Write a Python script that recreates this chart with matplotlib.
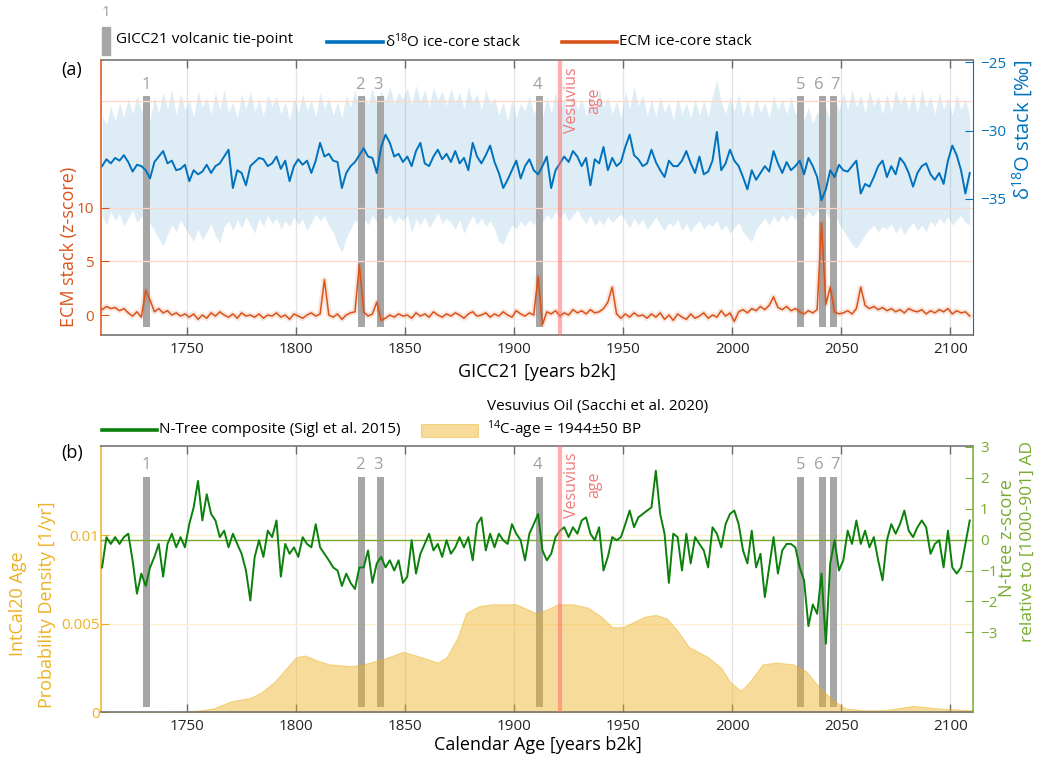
import numpy as np
import matplotlib
matplotlib.use('Agg')
import matplotlib.pyplot as plt
import matplotlib.transforms as mtransforms
from matplotlib.lines import Line2D
from matplotlib.patches import Rectangle

plt.rcParams['font.family'] = ['Open Sans', 'DejaVu Sans']
plt.rcParams['mathtext.fontset'] = 'custom'
plt.rcParams['mathtext.rm'] = 'Open Sans'
plt.rcParams['mathtext.it'] = 'Open Sans:italic'
plt.rcParams['mathtext.bf'] = 'Open Sans:bold'

# ---- data (2-yr steps) ----
years = np.arange(1711, 2111, 2)

d18o = [-32.6, -32.1, -32.4, -32.0, -32.2, -31.8, -32.3, -33.0, -32.5, -32.6,
        -32.9, -33.5, -32.3, -31.9, -31.5, -32.4, -32.2, -32.9, -32.8, -32.5,
        -33.7, -32.9, -33.2, -33.0, -32.5, -33.1, -32.6, -32.4, -31.9, -31.4,
        -34.2, -32.9, -33.1, -34.0, -32.6, -32.3, -32.0, -32.1, -32.6, -32.4,
        -31.9, -32.8, -32.2, -33.7, -32.6, -32.1, -32.5, -32.2, -33.1, -32.2,
        -30.9, -31.9, -31.7, -32.2, -32.3, -34.2, -33.1, -32.6, -32.3, -31.8,
        -31.3, -31.9, -32.0, -33.1, -31.2, -30.3, -30.9, -31.9, -31.7, -32.3,
        -31.9, -32.6, -31.5, -30.9, -32.4, -32.6, -31.9, -31.4, -32.1, -31.7,
        -32.3, -31.5, -32.4, -32.0, -32.9, -30.9, -31.9, -32.4, -31.8, -31.1,
        -32.3, -33.1, -34.2, -33.6, -32.9, -32.2, -33.5, -32.6, -32.1, -32.9,
        -33.2, -32.6, -31.9, -34.2, -32.9, -32.4, -31.9, -32.3, -31.5, -31.9,
        -32.6, -32.0, -34.0, -32.1, -32.4, -31.2, -32.9, -32.0, -32.6, -32.3,
        -31.2, -30.3, -31.8, -32.1, -32.6, -32.4, -31.4, -32.3, -32.9, -33.4,
        -32.2, -32.6, -32.6, -32.2, -31.5, -32.4, -33.1, -31.9, -33.2, -33.0,
        -32.2, -30.1, -32.9, -32.4, -31.4, -32.2, -32.6, -33.4, -34.3, -32.9,
        -33.6, -33.1, -32.6, -33.0, -31.5, -32.4, -33.1, -32.3, -32.9, -32.6,
        -32.2, -33.2, -32.0, -32.6, -33.4, -35.1, -34.3, -32.9, -33.4, -32.5,
        -32.9, -33.0, -32.6, -32.2, -34.6, -33.9, -34.1, -33.4, -32.6, -32.2,
        -33.4, -32.6, -33.2, -32.0, -32.4, -33.1, -34.1, -33.1, -32.6, -32.4,
        -33.2, -33.6, -33.1, -33.9, -32.2, -31.1, -31.8, -32.9, -34.6, -33.1]

d18o_hi = [-28.9, -29.6, -28.2, -29.3, -28.0, -29.0, -27.6, -28.8, -27.4, -28.6,
           -28.1, -29.2, -27.5, -28.7, -27.2, -28.4, -27.0, -28.9, -27.3, -28.5,
           -27.8, -29.0, -27.1, -28.3, -27.6, -28.8, -27.2, -28.5, -27.0, -28.7,
           -27.9, -29.1, -27.3, -28.4, -27.1, -28.6, -27.7, -28.9, -27.4, -28.2,
           -27.5, -28.8, -27.9, -29.2, -27.6, -28.7, -27.3, -28.5, -27.8, -29.0,
           -27.2, -28.4, -27.6, -28.9, -27.9, -29.1, -27.4, -28.3, -27.0, -28.5,
           -27.3, -28.1, -26.9, -28.2, -27.1, -27.8, -26.8, -28.0, -27.2, -27.7,
           -26.9, -28.1, -26.7, -27.9, -27.0, -28.3, -26.8, -27.8, -27.1, -28.2,
           -26.9, -28.0, -27.2, -28.4, -26.8, -27.9, -27.3, -28.5, -27.0, -28.1,
           -27.6, -28.9, -27.9, -29.3, -27.7, -29.0, -28.0, -28.6, -27.4, -28.8,
           -27.8, -29.1, -27.5, -28.7, -27.2, -28.4, -27.6, -28.9, -27.3, -28.5,
           -27.7, -29.0, -27.4, -28.6, -26.9, -28.3, -27.5, -28.8, -27.8, -29.1,
           -27.1, -28.4, -26.8, -28.2, -27.4, -28.9, -27.7, -29.0, -27.5, -28.7,
           -27.9, -29.2, -27.6, -28.8, -28.0, -29.1, -27.7, -28.9, -27.8, -29.0,
           -27.4, -26.3, -27.9, -28.8, -27.5, -28.6, -27.3, -28.9, -27.8, -29.0,
           -27.6, -28.7, -27.9, -29.1, -27.4, -28.5, -27.7, -28.8, -27.5, -28.9,
           -27.8, -29.2, -28.3, -29.5, -28.6, -29.8, -28.4, -29.3, -27.6, -28.6,
           -27.2, -28.5, -27.0, -28.3, -27.4, -28.7, -27.1, -28.2, -27.5, -28.8,
           -27.3, -28.6, -27.0, -28.1, -27.4, -28.5, -27.2, -28.7, -27.0, -28.3,
           -27.5, -28.8, -27.2, -28.4, -27.6, -28.9, -27.3, -28.5, -27.7, -29.0]

d18o_lo = [-36.2, -36.9, -35.9, -36.6, -36.1, -37.0, -36.4, -35.8, -36.7, -36.3,
           -36.0, -36.8, -37.3, -37.9, -38.4, -37.6, -36.9, -37.4, -36.5, -37.1,
           -37.6, -38.1, -37.2, -38.0, -37.4, -36.8, -37.7, -38.2, -37.0, -36.6,
           -37.3, -36.5, -37.1, -36.3, -36.9, -37.5, -36.4, -37.0, -36.2, -36.8,
           -36.4, -37.2, -36.6, -37.0, -36.3, -36.9, -36.5, -37.3, -36.7, -36.1,
           -36.6, -36.2, -37.0, -37.4, -38.3, -38.9, -37.8, -37.2, -36.5, -37.0,
           -36.4, -36.9, -36.2, -36.7, -36.0, -36.5, -36.1, -36.8, -36.3, -36.6,
           -36.2, -37.4, -36.5, -36.9, -36.3, -37.1, -36.6, -36.0, -36.8, -36.4,
           -36.7, -37.2, -36.5, -37.5, -36.8, -36.2, -36.9, -36.4, -37.0, -36.6,
           -37.2, -38.1, -38.3, -37.5, -36.9, -37.2, -36.6, -37.0, -36.5, -36.9,
           -36.3, -36.7, -36.1, -36.5, -35.9, -36.4, -36.0, -36.6, -36.2, -35.8,
           -36.4, -36.8, -36.2, -37.0, -36.5, -36.9, -36.3, -36.7, -36.4, -36.1,
           -36.6, -37.1, -36.4, -36.9, -36.5, -37.2, -36.8, -36.3, -36.9, -37.3,
           -36.7, -37.0, -36.5, -37.3, -36.8, -37.4, -36.9, -36.6, -37.2, -36.8,
           -37.0, -36.6, -37.3, -36.9, -37.5, -37.1, -36.7, -37.4, -37.8, -38.1,
           -37.2, -36.8, -36.4, -36.9, -36.3, -36.7, -36.2, -36.6, -36.1, -36.5,
           -36.0, -36.4, -35.9, -36.3, -35.8, -36.2, -36.0, -36.5, -36.1, -36.8,
           -37.3, -37.8, -38.3, -38.6, -38.1, -37.6, -37.2, -36.9, -37.4, -37.0,
           -37.2, -36.8, -37.5, -37.0, -37.6, -37.1, -36.7, -37.3, -36.9, -37.4,
           -36.6, -37.0, -36.4, -36.8, -36.3, -36.9, -36.5, -36.2, -36.7, -36.9]

ecm = [0.5, 0.8, 0.6, 0.7, 0.4, 0.6, 0.2, -0.1, 0.3, -0.2,
       2.3, 1.4, 0.3, 0.6, 0.2, 0.4, 0.0, 0.2, -0.1, 0.1,
       -0.2, 0.1, -0.4, 0.0, -0.3, 0.2, -0.1, 0.3, 0.0, -0.2,
       0.1, -0.3, 0.2, -0.1, 0.0, -0.2, 0.1, -0.3, 0.0, -0.1,
       0.2, -0.2, 0.0, -0.4, 0.1, -0.1, -0.3, 0.0, 0.2, -0.1,
       0.1, 3.3, 0.0, -0.2, 0.1, -0.4, 0.0, 0.2, 0.3, 4.7,
       0.3, -0.1, 0.1, 1.2, -0.5, -0.3, 0.0, -0.2, 0.1, -0.1,
       0.0, -0.3, 0.2, -0.1, 0.1, -0.2, 0.3, 0.0, -0.2, 0.1,
       -0.1, 0.2, 0.0, -0.3, 0.1, 0.3, -0.1, 0.0, 0.2, -0.2,
       0.1, -0.1, 0.3, 0.0, -0.2, 0.4, 0.1, -0.1, 0.2, 0.0,
       3.6, -0.9, 0.3, 0.1, 0.4, -0.1, 0.2, 0.0, 0.5, 0.2,
       0.4, 0.1, 0.5, 0.2, 0.3, 0.6, 1.2, 2.6, 0.1, -0.3,
       0.1, -0.2, 0.2, -0.1, 0.0, -0.3, 0.1, -0.2, 0.2, -0.4,
       0.0, -0.5, 0.1, -0.2, -0.4, 0.1, -0.3, -0.1, 0.2, -0.3,
       0.0, -0.2, 0.4, -0.1, 0.2, -0.6, 0.3, 0.5, 0.2, 0.6,
       0.4, 0.8, 0.5, 0.9, 1.7, 0.7, 0.5, 0.8, 0.4, 0.6,
       0.3, 0.1, 0.4, 0.2, 0.5, 8.6, 1.0, 2.6, 0.3, 0.1,
       0.2, 0.4, 0.1, 0.6, 2.6, 0.9, 0.6, 0.8, 0.5, 0.7,
       0.4, 0.6, 0.3, 0.5, 0.2, 0.6, 0.4, 0.3, 0.5, 0.1,
       0.4, 0.2, 0.5, 0.3, 0.6, 0.1, 0.4, 0.2, 0.3, -0.1]

ntree = [-0.9, 0.08, -0.14, 0.08, -0.14, 0.08, 0.19, -0.67, -1.75, -1.1,
         -1.5, -0.9, -0.56, -0.14, -1.2, -0.14, 0.19, -0.25, 0.08, -0.25,
         0.5, 1.04, 1.9, 0.62, 1.47, 0.83, 0.62, 0.08, 0.29, -0.25,
         0.19, -0.14, -0.46, -1.0, -1.97, -0.56, -0.02, -0.56, 0.29, 0.08,
         0.62, -1.2, -0.14, -0.46, -0.25, -0.56, 0.08, -0.14, -0.25, 0.5,
         -0.25, -0.46, -0.67, -0.9, -1.0, -1.5, -1.1, -1.4, -1.6, -0.9,
         -0.9, -0.35, -1.4, -0.77, -0.56, -0.9, -0.67, -1.0, -0.67, -1.4,
         -1.2, -0.02, -1.1, -0.46, -0.14, 0.19, -0.35, -0.14, -0.56, -0.02,
         -0.46, -0.25, 0.08, -0.25, 0.08, -0.67, 0.5, 0.72, -0.35, 0.19,
         -0.25, 0.19, -0.02, -0.14, 0.5, 0.19, -0.02, -0.67, 0.19, 0.5,
         0.83, -0.35, -0.67, -0.46, 0.08, 0.29, 0.4, 0.08, 0.4, 0.19,
         0.62, 0.72, 0.19, -0.02, 0.4, -1.0, -0.56, 0.08, -0.02, 0.08,
         0.5, 0.94, 0.4, 0.72, 0.83, 0.94, 1.04, 2.23, 0.83, 0.19,
         -1.4, 0.19, 0.08, -1.0, 0.19, -0.77, 0.08, -0.14, -0.35, -0.9,
         0.4, 0.19, -0.25, 0.5, 0.83, 0.94, 0.5, -0.35, -0.77, 0.29,
         -0.9, -0.46, -1.86, -0.9, 0.08, -1.1, -0.35, -0.14, -0.14, -0.25,
         -0.9, -1.32, -2.8, -2.1, -2.4, -1.1, -3.37, -0.77, -0.02, -1.0,
         -0.67, 0.29, -0.14, 0.62, -0.14, 0.29, -0.25, 0.08, -0.67, -1.32,
         -0.02, 0.5, 0.19, 0.5, 0.94, 0.29, 0.08, 0.4, 0.62, 0.4,
         -0.46, -0.14, -0.02, -0.9, 0.29, -0.9, -1.1, -0.9, -0.14, 0.62]

dens_years = [1711, 1740, 1750, 1756, 1762, 1770, 1779, 1784, 1790, 1795,
              1800, 1804, 1810, 1815, 1825, 1831, 1840, 1849, 1855, 1865,
              1869, 1874, 1878, 1884, 1890, 1901, 1910, 1915, 1920, 1927,
              1934, 1940, 1945, 1950, 1955, 1960, 1965, 1970, 1975, 1980,
              1989, 1995, 1999, 2004, 2008, 2014, 2020, 2028, 2034, 2040,
              2046, 2052, 2060, 2070, 2083, 2095, 2110]
dens = [0, 0, 0.00003, 0.0001, 0.0002, 0.0006, 0.0008, 0.0011, 0.0017, 0.0024,
        0.0031, 0.0032, 0.0029, 0.0027, 0.0026, 0.0027, 0.0030, 0.0034, 0.0032, 0.0028,
        0.0031, 0.0042, 0.0056, 0.0060, 0.0061, 0.0061, 0.0056, 0.0058, 0.0061, 0.0061,
        0.0059, 0.0054, 0.0048, 0.0048, 0.0051, 0.0054, 0.0055, 0.0053, 0.0046, 0.0037,
        0.0031, 0.0025, 0.0017, 0.0012, 0.0017, 0.0027, 0.0028, 0.0027, 0.0023, 0.0014,
        0.0007, 0.0002, 0.0001, 0.0001, 0.00035, 0.0002, 0.0001]

tie_years = [1731.2, 1829.9, 1838.7, 1911.5, 2031.3, 2041.5, 2046.4]
tie_label_years = [1731.2, 1829.4, 1837.5, 1910.8, 2031.6, 2039.6, 2047.4]
tie_labels = ['1', '2', '3', '4', '5', '6', '7']
vesuvius_year = 1921

BLUE = '#0072BD'
ORANGE = '#D95319'
YELLOW = '#EDB120'
LGREEN = '#77AC30'
GREEN = '#0b800b'
GREY = '#a6a6a6'
PINK = '#ff6b6b'
SPINE = '#6a6a6a'

fig = plt.figure(figsize=(10.39, 7.59), dpi=100)


def style_x(ax):
    ax.set_xlim(1710.5, 2110.5)
    ax.set_xticks([1750, 1800, 1850, 1900, 1950, 2000, 2050, 2100])
    ax.tick_params(axis='x', direction='in', length=6, width=1, top=True,
                   color=SPINE, labelsize=11, labelcolor='#262626', pad=5)
    for x in range(1750, 2101, 50):
        ax.axvline(x, color='#e4e4e4', lw=0.9, zorder=0)
    for s in ['top', 'bottom']:
        ax.spines[s].set_color(SPINE)
        ax.spines[s].set_linewidth(1.1)


def tie_bars(ax, ymin, ymax, ylab, z):
    tr = mtransforms.blended_transform_factory(ax.transData, ax.transAxes)
    for yr in tie_years:
        ax.axvspan(yr - 1.65, yr + 1.65, ymin=ymin, ymax=ymax,
                   color=GREY, lw=0, zorder=z)
    for yr, lab in zip(tie_label_years, tie_labels):
        ax.text(yr, ylab, lab, transform=tr, ha='center', va='center',
                color='#a0a0a0', fontsize=12)


def vesuvius(ax, ytop):
    ax.axvline(vesuvius_year, color=PINK, alpha=0.55, lw=3, zorder=4)
    tr = mtransforms.blended_transform_factory(ax.transData, ax.transAxes)
    ax.text(1923.0, ytop, 'Vesuvius\nage', transform=tr, rotation=90,
            ha='left', va='top', multialignment='center', linespacing=1.5,
            color='#f07a7a', fontsize=11.5)


# ---------------- panel (a) ----------------
ax_d = fig.add_axes([0.0972, 0.5586, 0.8393, 0.3624])
ax_e = ax_d.twinx()
ax_d.yaxis.tick_right()
ax_d.yaxis.set_label_position('right')
ax_e.yaxis.tick_left()
ax_e.yaxis.set_label_position('left')

style_x(ax_d)
ax_d.fill_between(years, d18o_lo, d18o_hi, color=BLUE, alpha=0.13, lw=0, zorder=1)
tie_bars(ax_d, 0.029, 0.869, 0.909, 2)
ax_d.plot(years, d18o, color=BLUE, lw=1.4, zorder=3)
ax_d.set_ylim(-44.93, -24.85)
ax_d.set_yticks([-35, -30, -25])
ax_d.tick_params(axis='y', direction='in', length=6, color=BLUE,
                 labelcolor=BLUE, labelsize=11, pad=5)
ax_d.spines['right'].set_color(BLUE)
ax_d.spines['left'].set_visible(False)

for g in [5, 10, 20]:
    ax_e.axhline(g, color='#fbd8ca', lw=0.9, zorder=0)
ax_e.plot(years, ecm, color=ORANGE, lw=4, alpha=0.15, zorder=1)
ax_e.plot(years, ecm, color=ORANGE, lw=1.1, zorder=2)
vesuvius(ax_e, 0.972)
ax_e.set_ylim(-1.87, 23.83)
ax_e.set_yticks([0, 5, 10])
ax_e.tick_params(axis='y', direction='in', length=6, color=ORANGE,
                 labelcolor=ORANGE, labelsize=11, pad=5)
ax_e.spines['left'].set_color(ORANGE)
ax_e.spines['left'].set_linewidth(1.1)
for s in ['right', 'top', 'bottom']:
    ax_e.spines[s].set_visible(False)

# ---------------- panel (b) ----------------
ax_b = fig.add_axes([0.0972, 0.0619, 0.8393, 0.3505])
ax_n = ax_b.twinx()
style_x(ax_b)
for g in [0.005, 0.01]:
    ax_b.axhline(g, color='#fcf0cf', lw=0.9, zorder=0)
tie_bars(ax_b, 0.019, 0.883, 0.929, 1)
ax_b.fill_between(dens_years, 0, dens, facecolor=YELLOW, alpha=0.45,
                  edgecolor=YELLOW, lw=0.8, zorder=2)
ax_b.set_ylim(0, 0.01506)
ax_b.set_yticks([0, 0.005, 0.01])
ax_b.set_yticklabels(['0', '0.005', '0.01'])
ax_b.tick_params(axis='y', direction='in', length=6, color=YELLOW,
                 labelcolor=YELLOW, labelsize=11, pad=1)
ax_b.spines['left'].set_color(YELLOW)
ax_b.spines['left'].set_linewidth(1.1)
ax_b.spines['right'].set_visible(False)

ax_n.axhline(0, color=LGREEN, lw=1.0, zorder=1)
ax_n.plot(years, ntree, color=GREEN, lw=1.4, zorder=2)
vesuvius(ax_n, 0.977)
ax_n.set_ylim(-5.58, 3.03)
ax_n.set_yticks([-3, -2, -1, 0, 1, 2, 3])
ax_n.tick_params(axis='y', direction='in', length=6, color=LGREEN,
                 labelcolor=LGREEN, labelsize=11, pad=5)
ax_n.spines['right'].set_color(LGREEN)
ax_n.spines['right'].set_linewidth(1.1)
for s in ['left', 'top', 'bottom']:
    ax_n.spines[s].set_visible(False)

# ---------------- labels ----------------
fig.text(0.0693, 0.9078, '(a)', fontsize=13, ha='center', va='center')
fig.text(0.0693, 0.4032, '(b)', fontsize=13, ha='center', va='center')
fig.text(0.5173, 0.5099, 'GICC21 [years b2k]', fontsize=13, ha='center', va='center')
fig.text(0.5173, 0.0184, 'Calendar Age [years b2k]', fontsize=13, ha='center', va='center')
fig.text(0.0664, 0.675, 'ECM stack (z-score)', color=ORANGE, fontsize=13,
         rotation=90, ha='center', va='center')
fig.text(0.9845, 0.8294, r'δ$^{18}$O stack [‰]', color=BLUE, fontsize=14.5,
         rotation=90, ha='center', va='center')
fig.text(0.0173, 0.2042, 'IntCal20 Age', color=YELLOW, fontsize=13,
         rotation=90, ha='center', va='center')
fig.text(0.0452, 0.2029, 'Probability Density [1/yr]', color=YELLOW, fontsize=13,
         rotation=90, ha='center', va='center')
fig.text(0.9690, 0.2912, 'N-tree z-score', color=LGREEN, fontsize=13,
         rotation=90, ha='center', va='center')
fig.text(0.9895, 0.2872, 'relative to [1000-901] AD', color=LGREEN, fontsize=12.5,
         rotation=90, ha='center', va='center')

# ---------------- legends (drawn by hand) ----------------
ft = fig.transFigure
fig.patches.append(Rectangle((0.0982, 0.9275), 0.0077, 0.0369, color=GREY,
                             transform=ft, figure=fig))
fig.text(0.102, 0.983, '1', color='#a0a0a0', fontsize=11, ha='center', va='center')
fig.text(0.1117, 0.9473, 'GICC21 volcanic tie-point', fontsize=11, va='center')
fig.add_artist(Line2D([0.3147, 0.3686], [0.9447, 0.9447], color=BLUE, lw=2.6, transform=ft))
fig.text(0.3706, 0.9447, r'δ$^{18}$O ice-core stack', fontsize=11, va='center')
fig.add_artist(Line2D([0.5409, 0.5938], [0.9447, 0.9447], color=ORANGE, lw=2.6, transform=ft))
fig.text(0.5958, 0.9447, 'ECM ice-core stack', fontsize=11, va='center')

fig.add_artist(Line2D([0.0982, 0.1511], [0.4335, 0.4335], color=GREEN, lw=2.6, transform=ft))
fig.text(0.1530, 0.4335, 'N-Tree composite (Sigl et al. 2015)', fontsize=11, va='center')
fig.patches.append(Rectangle((0.4052, 0.4242), 0.0549, 0.0171, facecolor=YELLOW,
                             alpha=0.45, edgecolor=YELLOW, lw=0.8,
                             transform=ft, figure=fig))
fig.text(0.4687, 0.4638, 'Vesuvius Oil (Sacchi et al. 2020)', fontsize=11, va='center')
fig.text(0.4687, 0.4335, r'$^{14}$C-age = 1944±50 BP', fontsize=11, va='center')

fig.savefig('out.png', dpi=100)
